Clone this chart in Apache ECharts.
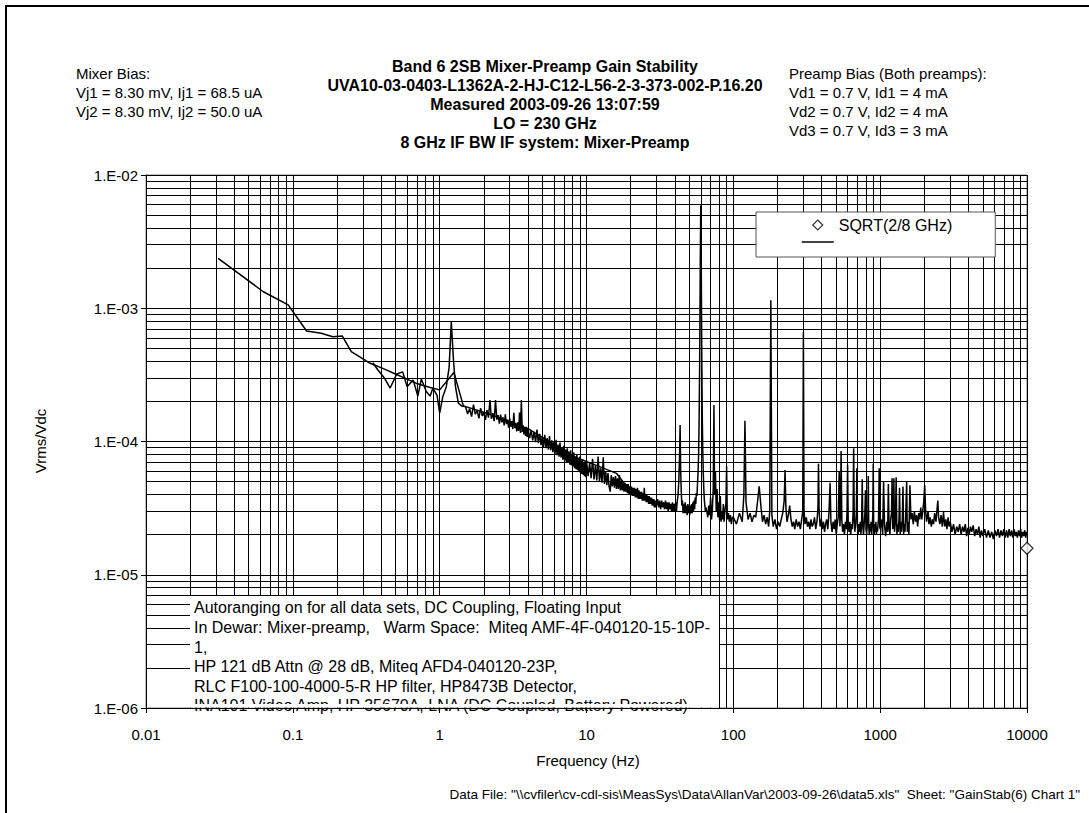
<!DOCTYPE html>
<html>
<head>
<meta charset="utf-8">
<script src="https://cdn.jsdelivr.net/npm/echarts@6/dist/echarts.min.js"></script>
<style>
html,body{margin:0;padding:0;background:#fff;}
#chart{width:1089px;height:813px;}
</style>
</head>
<body>
<div id="chart"></div>
<script>
// ---------------- DATA ----------------
const xTickLabels = ['0.01','0.1','1','10','100','1000','10000'];
const yTickLabels = ['1.E-06','1.E-05','1.E-04','1.E-03','1.E-02'];

// coarse (low-resolution) spectrum
const freqCoarse = [0.031,0.063,0.093,0.124,0.156,0.187,0.217,0.25,0.284,0.33,0.41,0.5,0.69,0.85,1.0,1.25,1.45,2.2,3.0,4.0,8.0,16.0,20.4,25.0];
const valCoarse  = [2.37e-3,1.33e-3,1.06e-3,6.75e-4,6.49e-4,6.12e-4,6.2e-4,4.72e-4,4.33e-4,3.9e-4,3.54e-4,3.21e-4,2.74e-4,2.55e-4,2.44e-4,3.3e-4,1.85e-4,1.6e-4,1.4e-4,1.25e-4,7.8e-5,5.77e-5,4.08e-5,3.7e-5];

// fine spectrum, 0.35 - 1.5 Hz
const fineA = [[0.35,3.9e-4],[0.38,3.44e-4],[0.42,3.0e-4],[0.46,2.52e-4],[0.51,3.21e-4],[0.56,3.33e-4],[0.60,2.58e-4],[0.66,2.9e-4],[0.71,2.19e-4],[0.75,2.94e-4],[0.81,2.37e-4],[0.86,2.19e-4],[0.90,2.52e-4],[0.96,2.22e-4],[1.0,1.63e-4],[1.05,2.17e-4],[1.11,2.58e-4],[1.16,3.6e-4],[1.20,7.9e-4],[1.24,4.2e-4],[1.28,2.6e-4],[1.34,1.94e-4],[1.41,1.85e-4],[1.47,1.83e-4]];
// 1.5 - 4 Hz
const fineB = [[1.50,18.3e-5],[1.55,16.1e-5],[1.60,17.6e-5],[1.65,15.4e-5],[1.70,18.9e-5],[1.75,16.0e-5],[1.80,17.1e-5],[1.85,14.9e-5],[1.90,17.8e-5],[1.95,15.6e-5],[2.00,16.4e-5],[2.05,14.5e-5],[2.10,17.2e-5],[2.15,15.1e-5],[2.20,20.5e-5],[2.25,14.8e-5],[2.30,16.3e-5],[2.35,14.2e-5],[2.40,20.5e-5],[2.45,14.6e-5],[2.50,15.8e-5],[2.55,13.6e-5],[2.60,15.9e-5],[2.65,13.9e-5],[2.70,15.2e-5],[2.75,13.2e-5],[2.80,16.0e-5],[2.85,13.5e-5],[2.90,14.6e-5],[2.95,12.7e-5],[3.00,14.9e-5],[3.05,12.9e-5],[3.10,14.2e-5],[3.15,12.4e-5],[3.20,16.4e-5],[3.25,12.6e-5],[3.30,13.8e-5],[3.35,11.9e-5],[3.40,13.9e-5],[3.45,12.0e-5],[3.50,16.5e-5],[3.55,11.6e-5],[3.60,20.5e-5],[3.65,11.8e-5],[3.70,13.2e-5],[3.75,11.3e-5],[3.80,12.8e-5],[3.85,11.0e-5],[3.90,12.9e-5],[3.95,10.8e-5]];
// 4 - 10 Hz
const fineC = [[4.0,12.4e-5],[4.1,10.6e-5],[4.2,12.1e-5],[4.3,10.2e-5],[4.4,11.8e-5],[4.5,9.9e-5],[4.6,12.3e-5],[4.7,9.7e-5],[4.8,11.4e-5],[4.9,9.4e-5],[5.0,10.9e-5],[5.1,9.1e-5],[5.2,11.2e-5],[5.3,8.9e-5],[5.4,10.6e-5],[5.5,8.7e-5],[5.6,11.0e-5],[5.7,8.6e-5],[5.8,10.2e-5],[5.9,8.3e-5],[6.0,9.9e-5],[6.1,8.0e-5],[6.2,10.3e-5],[6.3,7.9e-5],[6.4,9.5e-5],[6.5,7.7e-5],[6.6,9.8e-5],[6.7,7.6e-5],[6.8,9.1e-5],[6.9,7.3e-5],[7.0,9.3e-5],[7.1,7.2e-5],[7.2,8.7e-5],[7.3,7.0e-5],[7.4,8.9e-5],[7.5,6.9e-5],[7.6,8.4e-5],[7.7,6.7e-5],[7.8,8.6e-5],[7.9,6.6e-5],[8.0,8.0e-5],[8.1,6.5e-5],[8.2,8.3e-5],[8.3,6.3e-5],[8.4,7.7e-5],[8.5,6.2e-5],[8.6,8.0e-5],[8.7,6.1e-5],[8.8,7.5e-5],[8.9,5.9e-5],[9.0,7.7e-5],[9.1,5.8e-5],[9.2,7.2e-5],[9.3,5.7e-5],[9.4,7.4e-5],[9.5,5.6e-5],[9.6,7.0e-5],[9.7,5.5e-5],[9.8,7.1e-5],[9.9,5.4e-5]];
// 10 - 30 Hz
const fineD = [[10.0,7.2e-5],[10.25,5.5e-5],[10.5,6.9e-5],[10.75,5.3e-5],[11.0,7.4e-5],[11.25,5.2e-5],[11.5,6.6e-5],[11.75,5.1e-5],[12.0,7.7e-5],[12.25,5.0e-5],[12.5,6.3e-5],[12.75,4.9e-5],[13.0,7.6e-5],[13.25,4.8e-5],[13.5,6.0e-5],[13.75,4.7e-5],[14.0,5.8e-5],[14.25,4.6e-5],[14.5,4.2e-5],[14.75,5.6e-5],[15.0,4.6e-5],[15.25,5.4e-5],[15.5,4.5e-5],[15.75,5.5e-5],[16.0,4.4e-5],[16.25,5.3e-5],[16.5,4.4e-5],[16.75,5.6e-5],[17.0,4.3e-5],[17.25,5.1e-5],[17.5,4.3e-5],[17.75,5.0e-5],[18.0,4.2e-5],[18.25,4.9e-5],[18.5,4.2e-5],[18.75,4.8e-5],[19.0,4.1e-5],[19.25,4.8e-5],[19.5,4.0e-5],[19.75,4.6e-5],[20.0,4.0e-5],[20.25,4.6e-5],[20.5,3.9e-5],[20.75,4.5e-5],[21.0,3.9e-5],[21.25,4.5e-5],[21.5,3.8e-5],[21.75,4.4e-5],[22.0,3.8e-5],[22.25,4.5e-5],[22.5,3.7e-5],[22.75,4.3e-5],[23.0,3.7e-5],[23.25,4.2e-5],[23.5,3.7e-5],[23.75,4.2e-5],[24.0,3.6e-5],[24.25,4.1e-5],[24.5,3.6e-5],[24.75,4.5e-5],[25.0,3.6e-5],[25.25,4.0e-5],[25.5,3.5e-5],[25.75,4.0e-5],[26.0,3.5e-5],[26.25,3.9e-5],[26.5,3.4e-5],[26.75,3.9e-5],[27.0,3.4e-5],[27.25,3.8e-5],[27.5,3.4e-5],[27.75,3.8e-5],[28.0,3.3e-5],[28.25,3.7e-5],[28.5,3.3e-5],[28.75,3.7e-5],[29.0,3.2e-5],[29.25,3.6e-5],[29.5,3.2e-5],[29.75,3.6e-5]];
// 30 - 100 Hz (incl. 60 Hz line)
const fineE = [[30.0,3.3e-5],[30.5,3.7e-5],[31.0,3.2e-5],[31.5,3.6e-5],[32.0,3.1e-5],[32.5,3.6e-5],[33.0,3.2e-5],[33.5,3.5e-5],[34.0,3.1e-5],[34.5,3.6e-5],[35.0,3.1e-5],[35.5,3.5e-5],[36.0,3.0e-5],[36.5,3.5e-5],[37.0,3.1e-5],[37.5,3.4e-5],[38.0,3.0e-5],[38.5,3.5e-5],[39.0,3.0e-5],[39.5,3.4e-5],[40.0,3.0e-5],[40.5,3.5e-5],[41.0,3.0e-5],[41.5,3.6e-5],[42.0,3.9e-5],[42.5,5.0e-5],[43.0,7.5e-5],[43.4,1.33e-4],[43.8,6.0e-5],[44.2,4.2e-5],[44.6,3.3e-5],[45.0,3.6e-5],[45.5,2.9e-5],[46.0,3.4e-5],[46.5,2.9e-5],[47.0,3.5e-5],[47.5,2.9e-5],[48.0,3.3e-5],[48.5,2.8e-5],[49.0,3.4e-5],[49.5,2.9e-5],[50.0,3.3e-5],[50.5,2.8e-5],[51.0,3.3e-5],[51.5,2.9e-5],[52.0,3.4e-5],[52.5,2.9e-5],[53.0,3.5e-5],[53.5,3.0e-5],[54.0,3.6e-5],[54.5,3.1e-5],[55.0,3.8e-5],[55.5,3.4e-5],[56.0,4.1e-5],[56.5,3.9e-5],[57.0,4.8e-5],[57.5,5.8e-5],[58.0,8.0e-5],[58.5,1.5e-4],[59.0,4.0e-4],[59.6,2.5e-3],[60.0,5.9e-3],[60.4,2.5e-3],[61.0,4.0e-4],[61.5,1.4e-4],[62.0,8.0e-5],[62.5,5.5e-5],[63.0,4.3e-5],[63.5,3.6e-5],[64.0,3.3e-5],[64.5,3.0e-5],[65.0,3.2e-5],[66,3.0e-5],[67,2.7e-5],[68,3.3e-5],[69,2.8e-5],[70,3.8e-5],[71,2.6e-5],[72,3.1e-5],[73,4.5e-5],[73.8,1.88e-4],[74.5,4.0e-5],[75.5,5.9e-5],[76.5,3.0e-5],[77.5,4.4e-5],[78.5,2.7e-5],[79.5,3.5e-5],[80.5,2.6e-5],[81.5,3.9e-5],[82.5,2.5e-5],[83.5,3.0e-5],[84.5,2.6e-5],[85.5,3.4e-5],[86.5,2.5e-5],[87.5,3.0e-5],[89,3.4e-5],[90,6.5e-5],[91,2.6e-5],[92.5,2.9e-5],[94,2.5e-5],[95.5,2.8e-5],[97,2.4e-5],[98.5,2.7e-5]];
// 100 - 1000 Hz
const fineF = [[100,2.7e-5],[105,2.4e-5],[110,2.9e-5],[115,2.5e-5],[118,4.0e-5],[120,1.43e-4],[122,3.5e-5],[126,2.6e-5],[130,2.9e-5],[134,2.5e-5],[138,2.8e-5],[142,2.7e-5],[146,3.5e-5],[150,4.6e-5],[154,3.3e-5],[158,2.5e-5],[162,2.8e-5],[166,2.4e-5],[170,2.7e-5],[174,2.3e-5],[177,3.0e-5],[180,1.15e-3],[183,2.8e-5],[187,2.3e-5],[192,2.6e-5],[197,2.2e-5],[202,2.5e-5],[207,2.3e-5],[212,2.6e-5],[217,2.9e-5],[222,3.6e-5],[225,6.1e-5],[228,3.2e-5],[232,2.5e-5],[237,2.8e-5],[242,3.3e-5],[247,2.6e-5],[252,2.3e-5],[257,2.5e-5],[262,2.2e-5],[268,2.6e-5],[274,2.3e-5],[280,2.5e-5],[286,2.2e-5],[292,2.6e-5],[297,3.0e-5],[300,6.67e-4],[303,3.0e-5],[308,2.4e-5],[314,2.7e-5],[320,2.3e-5],[326,2.5e-5],[332,2.2e-5],[338,2.6e-5],[344,2.3e-5],[350,2.4e-5],[357,2.7e-5],[364,2.2e-5],[371,2.5e-5],[377,3.2e-5],[380,6.8e-5],[384,3.0e-5],[390,2.3e-5],[397,2.6e-5],[404,2.2e-5],[411,2.5e-5],[418,2.1e-5],[425,2.4e-5],[432,2.6e-5],[440,2.2e-5],[448,2.9e-5],[456,4.9e-5],[462,2.5e-5],[470,2.1e-5],[478,2.5e-5],[486,2.2e-5],[494,2.6e-5],[502,2.0e-5],[510,2.4e-5],[518,2.7e-5],[526,6.0e-5],[532,2.3e-5],[537,3.0e-5],[542,8.5e-5],[548,2.6e-5],[555,2.1e-5],[563,2.4e-5],[571,2.0e-5],[580,2.5e-5],[588,2.2e-5],[595,3.0e-5],[600,6.7e-5],[606,2.4e-5],[614,2.1e-5],[622,2.5e-5],[630,2.0e-5],[638,2.4e-5],[646,2.2e-5],[654,2.9e-5],[660,8.9e-5],[666,2.5e-5],[672,2.1e-5],[680,2.4e-5],[688,2.9e-5],[694,6.3e-5],[700,2.3e-5],[708,2.0e-5],[716,2.4e-5],[724,2.1e-5],[732,2.5e-5],[740,2.0e-5],[748,2.6e-5],[755,5.2e-5],[762,2.3e-5],[770,2.0e-5],[778,2.4e-5],[786,2.8e-5],[794,4.3e-5],[801,2.2e-5],[809,2.0e-5],[817,2.4e-5],[824,2.7e-5],[830,5.5e-5],[836,2.3e-5],[843,2.0e-5],[851,2.4e-5],[859,2.1e-5],[867,2.5e-5],[875,2.0e-5],[883,2.3e-5],[891,2.8e-5],[897,6.8e-5],[903,2.4e-5],[911,2.0e-5],[919,2.4e-5],[927,2.1e-5],[935,2.5e-5],[943,2.0e-5],[951,2.3e-5],[959,2.1e-5],[967,2.4e-5],[975,2.6e-5],[985,6.3e-5],[993,2.3e-5]];
// 1000 - 10000 Hz
const fineG = [[1000,2.2e-5],[1020,2.6e-5],[1040,2.0e-5],[1055,5.0e-5],[1070,2.4e-5],[1090,1.95e-5],[1110,2.5e-5],[1125,2.1e-5],[1137,4.8e-5],[1150,2.3e-5],[1165,2.0e-5],[1180,2.6e-5],[1195,2.9e-5],[1205,5.3e-5],[1220,2.2e-5],[1232,2.8e-5],[1240,5.3e-5],[1252,2.1e-5],[1270,2.5e-5],[1285,5.4e-5],[1300,2.0e-5],[1315,2.4e-5],[1330,2.1e-5],[1345,2.7e-5],[1355,4.5e-5],[1370,2.0e-5],[1385,2.5e-5],[1400,2.1e-5],[1415,2.6e-5],[1430,4.6e-5],[1445,2.0e-5],[1460,2.4e-5],[1475,2.1e-5],[1490,2.6e-5],[1515,5.0e-5],[1530,2.1e-5],[1550,2.5e-5],[1570,2.0e-5],[1595,4.7e-5],[1620,2.6e-5],[1650,2.9e-5],[1680,2.4e-5],[1710,3.0e-5],[1740,2.5e-5],[1770,2.8e-5],[1800,2.3e-5],[1830,2.9e-5],[1860,2.6e-5],[1890,3.2e-5],[1920,2.6e-5],[1950,3.0e-5],[1980,3.5e-5],[2010,4.7e-5],[2040,3.0e-5],[2070,2.5e-5],[2100,2.8e-5],[2120,3.0e-5],[2150,2.4e-5],[2190,2.7e-5],[2230,2.3e-5],[2270,2.6e-5],[2310,2.4e-5],[2350,2.9e-5],[2400,2.5e-5],[2440,3.1e-5],[2470,3.6e-5],[2500,2.7e-5],[2550,2.4e-5],[2600,2.8e-5],[2650,2.3e-5],[2700,2.95e-5],[2750,2.3e-5],[2800,2.6e-5],[2850,2.2e-5],[2900,2.7e-5],[2950,2.3e-5],[3000,2.5e-5],[3080,2.1e-5],[3160,2.4e-5],[3240,2.0e-5],[3320,2.3e-5],[3400,2.1e-5],[3480,2.4e-5],[3560,2.0e-5],[3640,2.3e-5],[3720,2.1e-5],[3800,2.4e-5],[3880,1.95e-5],[3960,2.25e-5],[4040,2.0e-5],[4120,2.3e-5],[4200,2.1e-5],[4300,2.35e-5],[4400,1.95e-5],[4500,2.2e-5],[4600,2.0e-5],[4700,2.3e-5],[4800,1.9e-5],[4900,2.15e-5],[5000,1.95e-5],[5150,2.2e-5],[5300,1.9e-5],[5450,2.15e-5],[5600,1.9e-5],[5750,2.1e-5],[5900,1.85e-5],[6050,2.15e-5],[6200,1.95e-5],[6350,2.2e-5],[6500,1.9e-5],[6650,2.15e-5],[6800,1.95e-5],[6950,2.2e-5],[7100,1.9e-5],[7250,2.15e-5],[7400,1.9e-5],[7550,2.2e-5],[7700,1.95e-5],[7850,2.15e-5],[8000,1.9e-5],[8150,2.2e-5],[8300,1.95e-5],[8450,2.1e-5],[8600,1.9e-5],[8750,2.15e-5],[8900,1.95e-5],[9050,2.2e-5],[9200,1.9e-5],[9350,2.1e-5],[9500,1.95e-5],[9650,2.15e-5],[9800,1.9e-5],[9950,2.1e-5],[10000,2.0e-5]];

// SQRT(2/8 GHz) marker
const markerFreq = [10000];
const markerVal = [1.58e-5];

const titleLines = ['Band 6 2SB Mixer-Preamp Gain Stability','UVA10-03-0403-L1362A-2-HJ-C12-L56-2-3-373-002-P.16.20','Measured 2003-09-26 13:07:59','LO = 230 GHz','8 GHz IF BW IF system: Mixer-Preamp'];
const mixerLines = ['Mixer Bias:','Vj1 = 8.30 mV, Ij1 = 68.5 uA','Vj2 = 8.30 mV, Ij2 = 50.0 uA'];
const preampLines = ['Preamp Bias (Both preamps):','Vd1 = 0.7 V, Id1 = 4 mA','Vd2 = 0.7 V, Id2 = 4 mA','Vd3 = 0.7 V, Id3 = 3 mA'];
const noteLines = ['Autoranging on for all data sets, DC Coupling, Floating Input','In Dewar: Mixer-preamp,   Warm Space:  Miteq AMF-4F-040120-15-10P-','1,','HP 121 dB Attn @ 28 dB, Miteq AFD4-040120-23P,','RLC F100-100-4000-5-R HP filter, HP8473B Detector,','INA101 Video Amp, HP 35670A, LNA (DC Coupled, Battery Powered)'];
const footerText = 'Data File: "\\\\cvfiler\\cv-cdl-sis\\MeasSys\\Data\\AllanVar\\2003-09-26\\data5.xls"  Sheet: "GainStab(6) Chart 1"';

// ---------------- CHART ----------------
const FONT = '"Liberation Sans", Arial, sans-serif';
const fineData = [].concat(fineA, fineB, fineC, fineD, fineE, fineF, fineG);
const coarseData = freqCoarse.map((f, i) => [f, valCoarse[i]]);
const markerData = markerFreq.map((f, i) => [f, markerVal[i]]);

// grid line positions (major + minor 2..9) from the tick decades
const xDecades = xTickLabels.map(Number);
const yDecades = [1e-6, 1e-5, 1e-4, 1e-3, 1e-2];
const xMin = xDecades[0], xMax = xDecades[xDecades.length - 1];
const yMin = yDecades[0], yMax = yDecades[yDecades.length - 1];
const gridMarks = [];
function vLine(x) { gridMarks.push([{ coord: [x, yMin] }, { coord: [x, yMax] }]); }
function hLine(y) { gridMarks.push([{ coord: [xMin, y] }, { coord: [xMax, y] }]); }
xDecades.forEach((d, i) => {
  vLine(d);
  if (i < xDecades.length - 1) for (let k = 2; k <= 9; k++) vLine(d * k);
});
yDecades.forEach((d, i) => {
  hLine(d);
  if (i < yDecades.length - 1) for (let k = 2; k <= 9; k++) hLine(d * k);
});

function expOf(v) { return Math.round(Math.log10(v)); }

const chart = echarts.init(document.getElementById('chart'), null, { renderer: 'svg' });
chart.setOption({
  animation: false,
  backgroundColor: '#fff',
  textStyle: { fontFamily: FONT },
  grid: { left: 146, right: 62, top: 175, bottom: 105, show: true, borderColor: '#808080', borderWidth: 1, backgroundColor: 'transparent' },
  xAxis: {
    type: 'log', logBase: 10, min: xMin, max: xMax, splitNumber: 6, z: 20,
    axisLine: { show: true, onZero: false, lineStyle: { color: '#000', width: 1 } },
    axisTick: { show: true, inside: false, length: 5, lineStyle: { color: '#000' } },
    axisLabel: { color: '#000', fontSize: 15, fontFamily: FONT, margin: 19,
      formatter: v => xTickLabels[expOf(v) + 2] },
    splitLine: { show: false }, minorTick: { show: false }, minorSplitLine: { show: false }
  },
  yAxis: {
    type: 'log', logBase: 10, min: yMin, max: yMax, splitNumber: 4, z: 20,
    axisLine: { show: true, onZero: false, lineStyle: { color: '#000', width: 1 } },
    axisTick: { show: true, inside: false, length: 5, lineStyle: { color: '#000' } },
    axisLabel: { color: '#000', fontSize: 15, fontFamily: FONT, margin: 8,
      formatter: v => yTickLabels[expOf(v) + 6] },
    splitLine: { show: false }, minorTick: { show: false }, minorSplitLine: { show: false }
  },
  legend: {
    orient: 'vertical', left: 756, top: 212, z: 15,
    padding: [5, 43, 7, 45], itemWidth: 32, itemHeight: 10, itemGap: 1,
    backgroundColor: '#fff', borderColor: '#555', borderWidth: 1,
    selectedMode: false, symbolKeepAspect: true,
    textStyle: { color: '#000', fontSize: 16, fontFamily: FONT, lineHeight: 12 },
    data: [
      { name: 'SQRT(2/8 GHz)', icon: 'path://M5,0L10,5L5,10L0,5Z', itemStyle: { color: '#fff', borderColor: '#000', borderWidth: 1.2 } },
      { name: ' ', itemStyle: { opacity: 0 }, lineStyle: { color: '#000', width: 1.5 } }
    ]
  },
  graphic: [
    { type: 'rect', z: 30, silent: true, shape: { x: 6, y: 6, width: 1200, height: 1000 }, style: { fill: 'none', stroke: '#000', lineWidth: 2 } },
    { type: 'text', z: 30, left: 76, top: 64, style: { text: mixerLines.join('\n'), font: '15px ' + FONT, fill: '#000', lineHeight: 19 } },
    { type: 'text', z: 30, x: 545, y: 56.5, style: { text: titleLines.join('\n'), font: 'bold 16px ' + FONT, fill: '#000', lineHeight: 19, align: 'center', verticalAlign: 'top' } },
    { type: 'text', z: 30, left: 789, top: 64, style: { text: preampLines.join('\n'), font: '15px ' + FONT, fill: '#000', lineHeight: 19 } },
    { type: 'text', z: 30, x: 40, y: 441, rotation: Math.PI / 2, style: { text: 'Vrms/Vdc', font: '15px ' + FONT, fill: '#000', align: 'center', verticalAlign: 'middle' } },
    { type: 'text', z: 30, x: 588, y: 760, style: { text: 'Frequency (Hz)', font: '15px ' + FONT, fill: '#000', align: 'center', verticalAlign: 'middle' } },
    { type: 'text', z: 30, x: 1080, y: 794, style: { text: footerText, font: '13.5px ' + FONT, fill: '#000', align: 'right', verticalAlign: 'middle' } },
    { type: 'rect', z: 10, silent: true, shape: { x: 190, y: 596, width: 529, height: 108 }, style: { fill: '#fff', stroke: 'none' } },
    { type: 'text', z: 11, x: 194, y: 598, style: { text: noteLines.join('\n'), font: '16px ' + FONT, fill: '#000', lineHeight: 19.6, verticalAlign: 'top' } },
    { type: 'rect', z: 12, silent: true, shape: { x: 190, y: 704, width: 529, height: 3.5 }, style: { fill: '#fff', stroke: 'none' } }
  ],
  series: [
    {
      name: 'grid', type: 'line', z: 1, silent: true, data: [[xMin, yMin]], showSymbol: false, symbol: 'none',
      lineStyle: { opacity: 0 },
      markLine: { silent: true, symbol: ['none', 'none'], label: { show: false }, animation: false,
        lineStyle: { color: '#000', width: 1, type: 'solid' }, emphasis: { disabled: true }, data: gridMarks }
    },
    {
      name: 'coarse', type: 'line', z: 3, data: coarseData, showSymbol: false, symbol: 'none', silent: true,
      lineStyle: { color: '#000', width: 1.5 }
    },
    {
      name: ' ', type: 'line', z: 4, data: fineData, showSymbol: false, symbol: 'none', silent: true,
      lineStyle: { color: '#000', width: 1.5 }, itemStyle: { color: '#000' }
    },
    {
      name: 'SQRT(2/8 GHz)', type: 'scatter', z: 5, data: markerData, symbol: 'diamond', symbolSize: 12,
      itemStyle: { color: '#fff', borderColor: '#000', borderWidth: 1.2 }, silent: true
    }
  ]
});
</script>
</body>
</html>
